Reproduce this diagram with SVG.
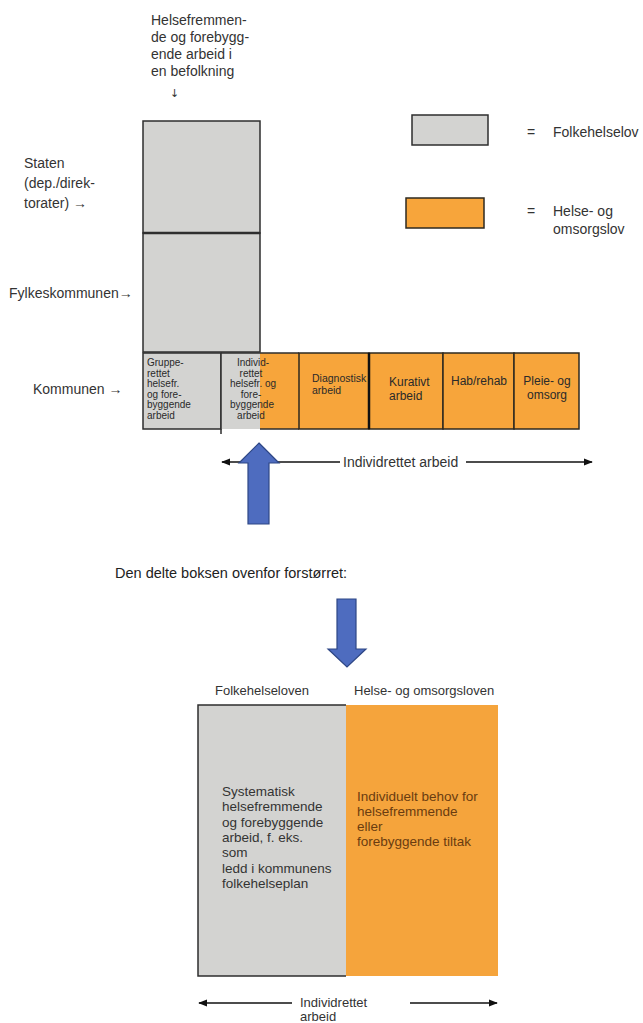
<svg xmlns="http://www.w3.org/2000/svg" width="643" height="1023" viewBox="0 0 643 1023">
<style>
text{font-family:"Liberation Sans",Arial,sans-serif;fill:#333}
.grey{fill:#d3d3d1;stroke:#2e2e2e;stroke-width:1.5}
.orange{fill:#f7a53b;stroke:#2e2a20;stroke-width:1.5}
.t14{font-size:14px}
.t13{font-size:13.5px}
.sm{font-size:10px;fill:#2a2a2a}
.md{font-size:12px;fill:#2a2a2a}
.br{fill:#6a3c10}
.ln{stroke:#111;stroke-width:1.3;fill:none}
.blue{fill:#4e6cbf;stroke:#2d4685;stroke-width:1.2}
</style>
<defs>
<marker id="ah" viewBox="0 0 10 10" refX="9" refY="5" markerWidth="9" markerHeight="9" markerUnits="userSpaceOnUse" orient="auto-start-reverse">
<path d="M0,1 L10,5 L0,9 Z" fill="#111"/>
</marker>
</defs>
<rect width="643" height="1023" fill="#fff"/>

<g id="top-label">
<text class="t14" x="151" y="25">Helsefremmen-</text>
<text class="t14" x="151" y="42">de og forebygg-</text>
<text class="t14" x="151" y="59">ende arbeid i</text>
<text class="t14" x="151" y="76">en befolkning</text>
<text x="170" y="97" style="font-family:'DejaVu Sans',sans-serif;font-size:11px;fill:#333">↓</text>
</g>

<g id="level-labels">
<text class="t14" x="24" y="168">Staten</text>
<text class="t14" x="24" y="188">(dep./direk-</text>
<text class="t14" x="24" y="208">torater) →</text>
<text class="t14" x="9" y="298">Fylkeskommunen→</text>
<text class="t14" x="33" y="394">Kommunen →</text>
</g>

<g id="staten"><rect class="grey" x="143" y="121" width="117" height="112"/></g>
<g id="fylkeskommunen"><rect class="grey" x="143" y="233" width="117" height="119"/><line x1="143" y1="233" x2="260" y2="233" stroke="#2e2e2e" stroke-width="2.5"/></g>

<g id="legend">
<rect class="grey" x="412" y="115" width="76" height="30"/>
<text class="t14" x="527" y="137">=</text>
<text class="t14" x="553" y="137">Folkehelselov</text>
<rect class="orange" x="406" y="198" width="78" height="30"/>
<text class="t14" x="527" y="216">=</text>
<text class="t14" x="553" y="216">Helse- og</text>
<text class="t14" x="553" y="234">omsorgslov</text>
</g>

<g id="gruppe">
<rect class="grey" x="143" y="353" width="78" height="76"/>
<text class="sm" x="147" y="366">Gruppe-</text>
<text class="sm" x="147" y="376.5">rettet</text>
<text class="sm" x="147" y="387">helsefr.</text>
<text class="sm" x="147" y="397.5">og fore-</text>
<text class="sm" x="147" y="408">byggende</text>
<text class="sm" x="147" y="418.5">arbeid</text>
</g>

<g id="individ">
<rect x="221" y="353" width="39" height="76" fill="#d3d3d1"/>
<rect x="260" y="353" width="39" height="76" fill="#f7a53b"/>
<path d="M221,353 H299 M260,429 H299 M221,353 V434" stroke="#2e2e2e" stroke-width="1.5" fill="none"/>
<g text-anchor="middle">
<text class="sm" x="253" y="366">Individ-</text>
<text class="sm" x="251" y="376.5">rettet</text>
<text class="sm" x="253" y="387">helsefr. og</text>
<text class="sm" x="251" y="397.5">fore-</text>
<text class="sm" x="252" y="408">byggende</text>
<text class="sm" x="251" y="418.5">arbeid</text>
</g>
</g>

<g id="diagnostisk">
<rect class="orange" x="299" y="353" width="70" height="76"/>
<text x="312" y="382" style="font-size:10.5px;fill:#2a2a2a">Diagnostisk</text>
<text x="312" y="394" style="font-size:10.5px;fill:#2a2a2a">arbeid</text>
</g>
<g id="kurativt">
<rect class="orange" x="369" y="353" width="74" height="76"/>
<line x1="369" y1="353" x2="369" y2="429" stroke="#111" stroke-width="2.5"/>
<text class="md" x="389" y="386">Kurativt</text>
<text class="md" x="389" y="400">arbeid</text>
</g>
<g id="habrehab">
<rect class="orange" x="443" y="353" width="71" height="76"/>
<text class="md" x="479" y="385" text-anchor="middle">Hab/rehab</text>
</g>
<g id="pleie">
<rect class="orange" x="514" y="353" width="65" height="76"/>
<text class="md" x="547" y="385" text-anchor="middle">Pleie- og</text>
<text class="md" x="547" y="399" text-anchor="middle">omsorg</text>
</g>

<g id="connectors">
<line class="ln" x1="340" y1="462" x2="222" y2="462" marker-end="url(#ah)"/>
<line class="ln" x1="466" y1="462" x2="592" y2="462" marker-end="url(#ah)"/>
<line class="ln" x1="292" y1="1003" x2="199" y2="1003" marker-end="url(#ah)"/>
<line class="ln" x1="410" y1="1003" x2="497" y2="1003" marker-end="url(#ah)"/>
<path class="blue" d="M259,443 L279,463 L269,463 L269,524 L248,524 L248,463 L239,463 Z"/>
<path class="blue" d="M337,599 L356,599 L356,649 L366,649 L347,667 L328,649 L337,649 Z"/>
</g>

<g id="arrow-label">
<text class="t14" x="343" y="467">Individrettet arbeid</text>
</g>

<g id="caption">
<text x="115" y="578" style="font-size:14.5px;fill:#222">Den delte boksen ovenfor forstørret:</text>
</g>

<g id="enlarged-folkehelse">
<text x="215" y="695" style="font-size:13px">Folkehelseloven</text>
<rect x="198" y="705" width="148" height="271" fill="#d3d3d1"/>
<path d="M346,705 H198 V976 H346" stroke="#2e2e2e" stroke-width="1.5" fill="none"/>
<text class="t13" x="222" y="796">Systematisk</text>
<text class="t13" x="222" y="811.3">helsefremmende</text>
<text class="t13" x="222" y="826.6">og forebyggende</text>
<text class="t13" x="222" y="841.9">arbeid, f. eks.</text>
<text class="t13" x="222" y="857.2">som</text>
<text class="t13" x="222" y="872.5">ledd i kommunens</text>
<text class="t13" x="222" y="887.8">folkehelseplan</text>
</g>

<g id="enlarged-helseomsorg">
<text x="354" y="695" style="font-size:13px">Helse- og omsorgsloven</text>
<rect x="346" y="705" width="152" height="271" fill="#f5a43c"/>
<text class="t13 br" x="357" y="801">Individuelt behov for</text>
<text class="t13 br" x="357" y="816">helsefremmende</text>
<text class="t13 br" x="357" y="831">eller</text>
<text class="t13 br" x="357" y="846">forebyggende tiltak</text>
</g>

<g id="bottom-label">
<text x="300" y="1007" style="font-size:13px">Individrettet</text>
<text x="300" y="1021" style="font-size:13px">arbeid</text>
</g>
</svg>
